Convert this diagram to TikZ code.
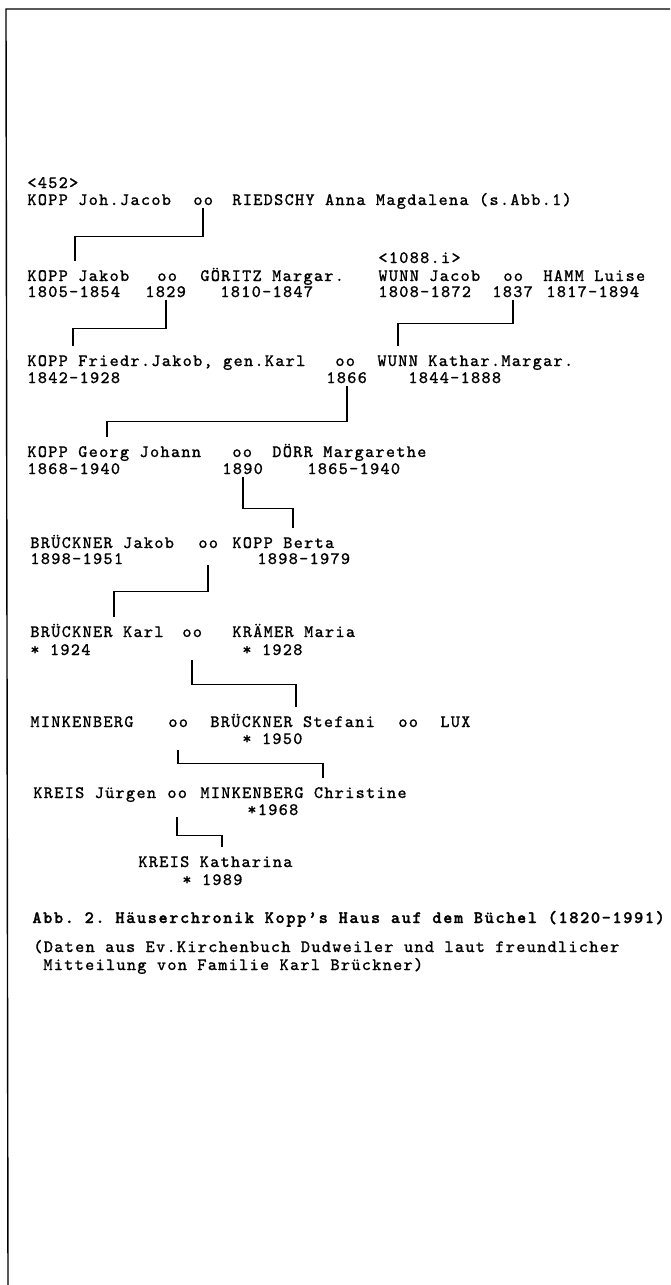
\documentclass[tikz,border=0pt]{standalone}
\usepackage{fontspec}
\newfontfamily\typew{Latin Modern Mono}[LetterSpace=7.5, FakeBold=0.8]
\newfontfamily\typewbold{Latin Modern Mono Light}[LetterSpace=9.5, FakeBold=1.5]
\usepackage{tikz}
\usetikzlibrary{calc}
\tikzset{
    txt/.style = {anchor=base west, inner xsep=0pt, inner ysep=0.5pt, text height=5.5pt, text depth=1pt, font=\typew\fontsize{8.7}{10}\selectfont\bfseries},
    person/.style = {txt},
    marr/.style = {txt},
    yr/.style = {txt},
    refno/.style = {txt},
    caption/.style = {txt, font=\typewbold\fontsize{8.7}{10}\selectfont\bfseries},
    link/.style = {draw, line width=0.9pt},
    frame/.style = {draw, line width=0.7pt},
}

\begin{document}
\frenchspacing
\begin{tikzpicture}[x=0.5pt, y=0.5pt]
    \useasboundingbox (0,0) rectangle (670,-1285);
    \draw [frame] (670,-9) -- (6,-9) -- (8,-1285);

    % generation 1
    \node [refno] (n452) at (27,-188) {<452>};
    \node [person] (jjacob) at (27,-205) {KOPP Joh.Jacob};
    \node [marr] (ooA) at (193,-205) {oo};
    \node [person] (riedschy) at (232,-205) {RIEDSCHY Anna Magdalena (s.Abb.1)};

    % generation 2
    \node [person] (kjakob) at (27,-281) {KOPP Jakob};
    \node [marr] (ooB1) at (157,-281) {oo};
    \node [person] (goeritz) at (200,-281) {GÖRITZ Margar.};
    \node [yr] (y1805) at (27,-297) {1805-1854};
    \node [yr] (d1829) at (145,-297) {1829};
    \node [yr] (y1810) at (220,-297) {1810-1847};
    \node [refno] (n1088) at (378,-263) {<1088.i>};
    \node [person] (wjacob) at (378,-281) {WUNN Jacob};
    \node [marr] (ooB2) at (503,-281) {oo};
    \node [person] (hamm) at (543,-281) {HAMM Luise};
    \node [yr] (y1808) at (378,-297) {1808-1872};
    \node [yr] (d1837) at (492,-297) {1837};
    \node [yr] (y1817) at (546,-297) {1817-1894};

    % generation 3
    \node [person] (friedr) at (27,-366) {KOPP Friedr.Jakob, gen.Karl};
    \node [marr] (ooC) at (335,-366) {oo};
    \node [person] (kwunn) at (377,-366) {WUNN Kathar.Margar.};
    \node [yr] (y1842) at (27,-383) {1842-1928};
    \node [yr] (d1866) at (326,-383) {1866};
    \node [yr] (y1844) at (408,-383) {1844-1888};

    % generation 4
    \node [person] (georg) at (27,-457) {KOPP Georg Johann};
    \node [marr] (ooD) at (232,-457) {oo};
    \node [person] (doerr) at (272,-457) {DÖRR Margarethe};
    \node [yr] (y1868) at (27,-474) {1868-1940};
    \node [yr] (d1890) at (222,-474) {1890};
    \node [yr] (y1865) at (307,-474) {1865-1940};

    % generation 5
    \node [person] (bjakob) at (30,-548) {BRÜCKNER Jakob};
    \node [marr] (ooE) at (198,-548) {oo};
    \node [person] (berta) at (232,-548) {KOPP Berta};
    \node [yr] (y1898a) at (30,-564) {1898-1951};
    \node [yr] (y1898b) at (257,-564) {1898-1979};

    % generation 6
    \node [person] (bkarl) at (30,-637) {BRÜCKNER Karl};
    \node [marr] (ooF) at (182,-637) {oo};
    \node [person] (kraemer) at (232,-637) {KRÄMER Maria};
    \node [yr] (y1924) at (30,-655) {* 1924};
    \node [yr] (y1928) at (242,-655) {* 1928};

    % generation 7
    \node [person] (minkA) at (30,-727) {MINKENBERG};
    \node [marr] (ooG1) at (168,-727) {oo};
    \node [person] (stefani) at (210,-727) {BRÜCKNER Stefani};
    \node [marr] (ooG2) at (398,-727) {oo};
    \node [person] (lux) at (440,-727) {LUX};
    \node [yr] (y1950) at (242,-744) {* 1950};

    % generation 8
    \node [person] (juergen) at (33,-798) {KREIS Jürgen};
    \node [marr] (ooH) at (167,-798) {oo};
    \node [person] (christine) at (200,-798) {MINKENBERG Christine};
    \node [yr] (y1968) at (247,-815) {*1968};

    % generation 9
    \node [person] (katharina) at (138,-867) {KREIS Katharina};
    \node [yr] (y1989) at (182,-885) {* 1989};

    \node [caption] (cap) at (32,-923) {Abb. 2. Häuserchronik Kopp’s Haus auf dem Büchel (1820-1991)};
    \node [refno] (src1) at (33,-952) {(Daten aus Ev.Kirchenbuch Dudweiler und laut freundlicher};
    \node [refno] (src2) at (43,-970) {Mitteilung von Familie Karl Brückner)};

    \draw [link] (ooA.south) -- ++(0,-28) -| ($(kjakob.north west)+(48,8)$);
    \draw [link] (d1829.south) -- ++(0,-28) -| ($(friedr.north west)+(46,8)$);
    \draw [link] (d1837.south) -- ++(0,-23) -| ($(kwunn.north west)+(21,8)$);
    \draw [link] (d1866.south) -- ++(0,-35) -| ($(georg.north west)+(80,8)$);
    \draw [link] (d1890.south) -- ++(0,-31) -| ($(berta.north west)+(61,8)$);
    \draw [link] ([yshift=-7pt]ooE.south) -- ++(0,-26) -| ($(bkarl.north west)+(84,8)$);
    \draw [link] ([yshift=-10pt]ooF.south) -- ++(0,-24) -| ($(stefani.north west)+(86,8)$);
    \draw [link] ([yshift=-10pt]ooG1.south) -- ++(0,-13) -| ($(christine.north west)+(123,8)$);
    \draw [link] ([yshift=-8pt]ooH.south) -- ++(0,-18) -| ($(katharina.north west)+(84,8)$);
\end{tikzpicture}
\end{document}
